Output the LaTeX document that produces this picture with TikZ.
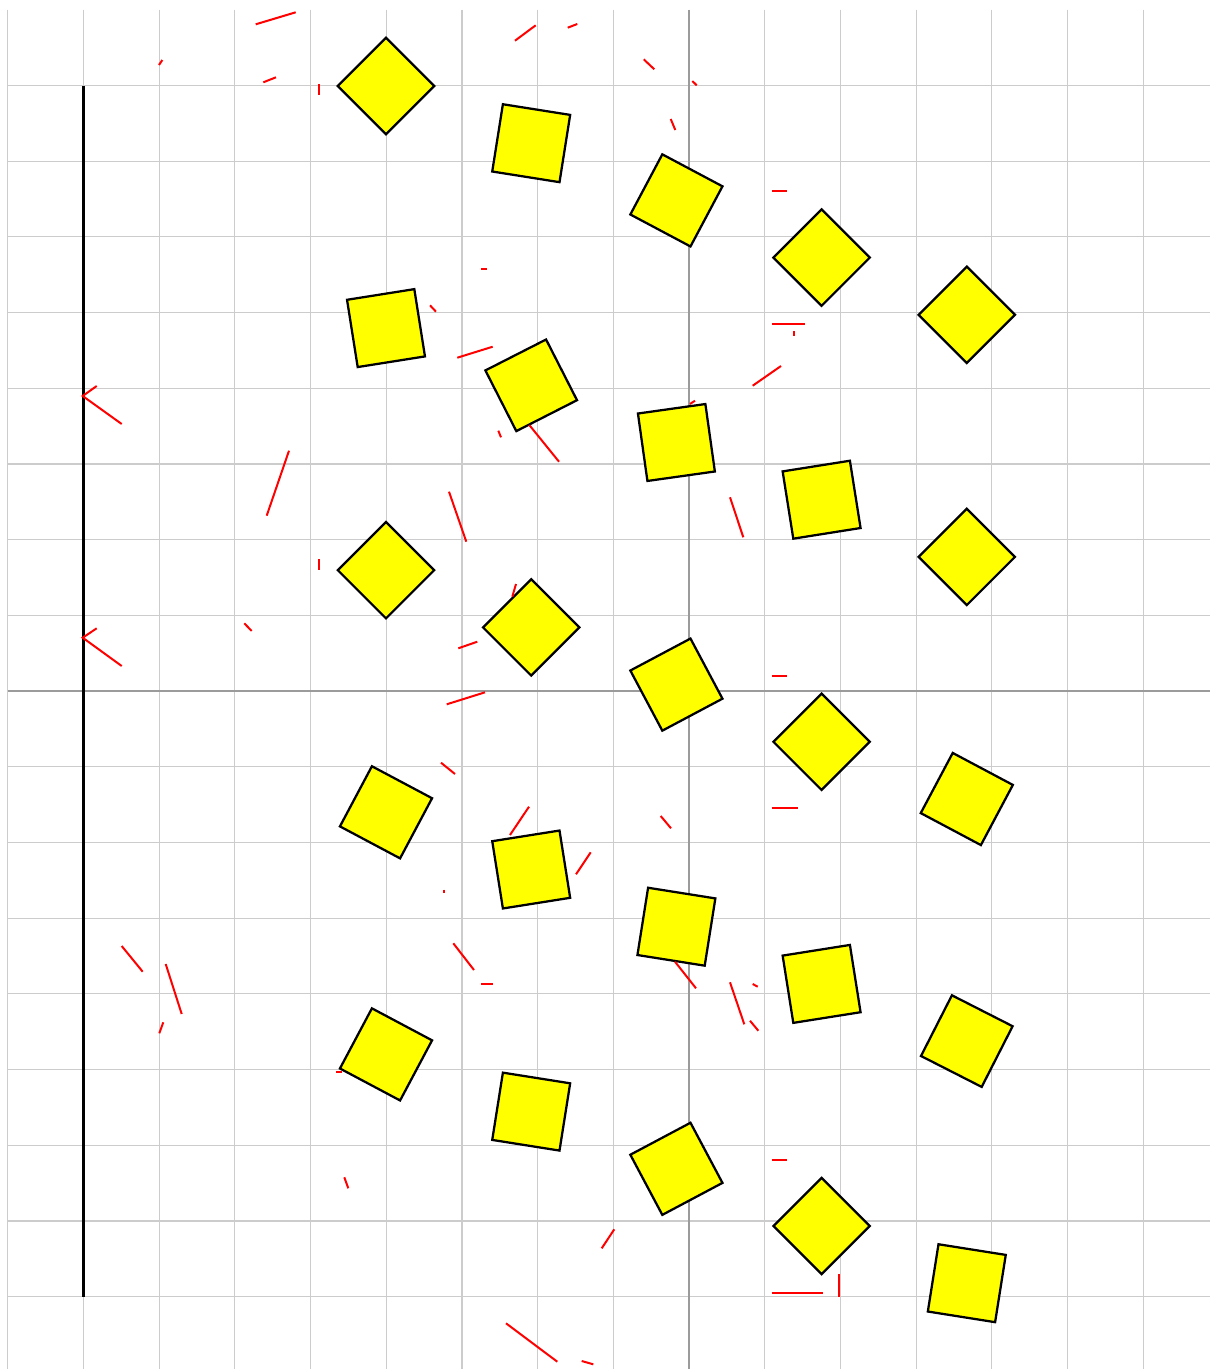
\documentclass[tikz,border=0pt]{standalone}
\begin{document}
\begin{tikzpicture}[x=0.013210cm, y=-0.013210cm,
  gridline/.style={draw={rgb,255:red,204;green,204;blue,204}, line width=0.45pt},
  axisline/.style={draw={rgb,255:red,155;green,155;blue,155}, line width=0.5pt},
  sq/.style={shape=rectangle, draw=black, fill={rgb,255:red,255;green,255;blue,0}, line width=0.85pt, minimum size=0.9cm, inner sep=0pt},
  redseg/.style={draw={rgb,255:red,255;green,0;blue,0}, line width=0.75pt},
  wall/.style={draw=black, line width=1pt}]
\useasboundingbox (0,0) rectangle (1210,1369);
\fill[white] (0,0) rectangle (1210,1369);
% grid
\foreach \k in {-9,...,6} {
  \draw[gridline] ({689+75.7*\k},9.7) -- ({689+75.7*\k},1369);
}
\foreach \k in {-8,...,8} {
  \draw[gridline] (7.7,{691+75.7*\k}) -- (1210,{691+75.7*\k});
}
\draw[axisline] (689,9.7) -- (689,1369);
\draw[axisline] (7.7,691) -- (1210,691);
% black wall
\coordinate (wtop) at (83.4,86.4);
\coordinate (wbot) at (83.4,1296.6);
\draw[wall] (wtop) -- (wbot);
% squares
\foreach \c/\r/\a in {1/1/45,1/2/9,1/3/45,1/4/-28,1/5/-28,
                      2/1/-9,2/2/27,2/3/45,2/4/9,2/5/-9,
                      3/1/-28,3/2/8,3/3/28,3/4/-9,3/5/28,
                      4/1/45,4/2/9,4/3/45,4/4/9,4/5/45,
                      5/1/45,5/2/45,5/3/-28,5/4/-27,5/5/-9} {
  \node[sq, rotate=\a] (q\c\r) at ({386+145.2*(\c-1)},{86+242.1*(\r-1)+57.2*(\c-1)}) {};
}
% red debris
\foreach \xa/\ya/\xb/\yb in {
  255.7/24.3/295.7/12.3, 159/65/162.3/60, 263.3/82.3/276/77.3, 319/84/319/95,
  515/40.7/535.7/25.3, 567.7/27.7/577.3/24, 643.7/59.3/654.3/69.3, 692.3/81/696.7/85.3,
  670.7/119/675.3/130, 771.7/191/786.7/191, 481/269.3/486.7/269.3, 430/305.3/436/311.7,
  771.7/324/805/324, 794.3/331/794.3/335.5, 457.3/357.7/492.7/346.7, 752.7/385.7/781/366,
  690/404/695/400.7, 498.3/430.7/501/437.3, 529.3/425/559/461.7, 449/491.7/466.3/541.7,
  730/497.3/743.3/537.3, 516/584/512.3/596.7, 458.3/648.3/477.3/641.7, 771.7/675.7/786.7/675.7,
  446.7/704.3/485/692.3, 289/450.7/266.7/515.7, 319/559/319/570, 244.3/623.3/251.7/631,
  121.7/946/142.7/971.7, 165.7/964/181.7/1014, 163.3/1022.3/159.3/1033.3, 441/762.7/455/774,
  529/806.7/510/835, 590.7/852.3/576/874.3, 444.3/889.5/444.3/892.5, 660.7/816/671/828.3,
  771.7/808.3/798.3/808.3, 453.3/943.3/474/970, 481/984/492.7/984, 675/961.7/696/988.3,
  730/982.3/744.3/1024.3, 752.7/984/757.7/986.7, 750/1020.7/758.3/1030.7, 336/1072.3/341.7/1072.3,
  344.3/1177.3/348.3/1188.3, 771.7/1160/786.7/1160, 614.3/1229.3/601.7/1248.3, 771.7/1293/822.7/1293,
  839.3/1274.3/839.3/1296.7, 506/1323.3/557.3/1361.7, 581.7/1361/593.3/1364.3} {
  \draw[redseg] (\xa,\ya) -- (\xb,\yb);
}
\draw[redseg] (96.7,386) -- (82.7,396) -- (121.7,424);
\draw[redseg] (96.7,628.3) -- (82.7,637.7) -- (121.7,666);
\end{tikzpicture}
\end{document}
